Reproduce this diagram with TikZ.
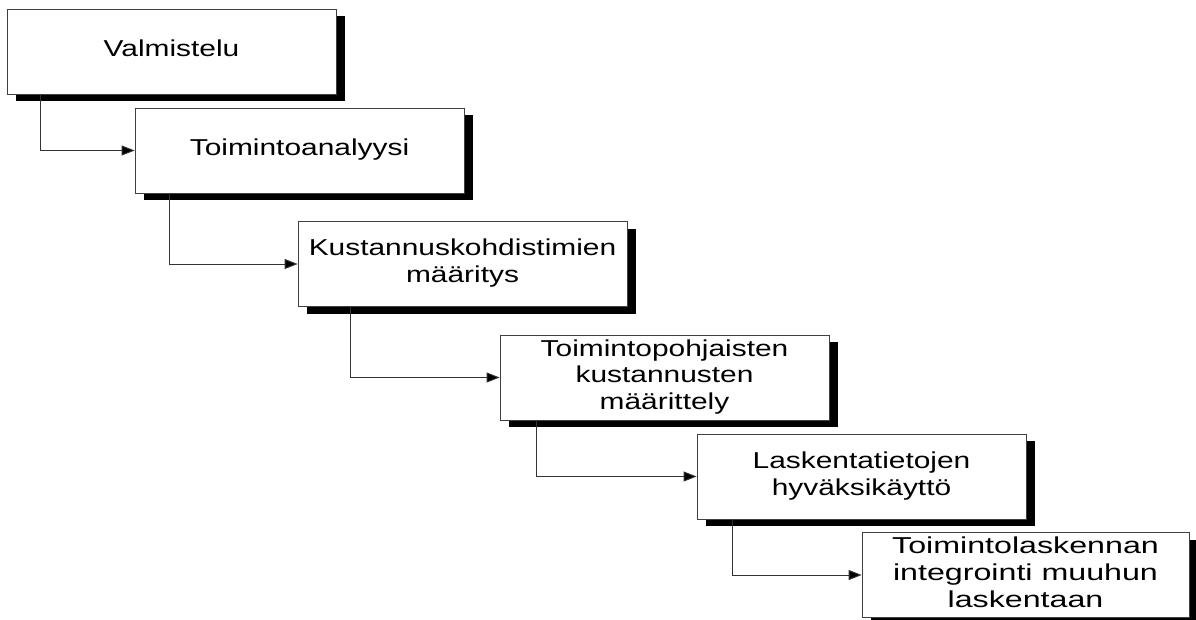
\documentclass[tikz,border=0pt]{standalone}
\usepackage{fontspec}
\setmainfont{Liberation Sans}
\usetikzlibrary{arrows.meta,shadows}

% Text for a stage box: centred lines, widened horizontally
\newcommand{\boxtext}[2][1.3]{\scalebox{#1}[1]{\begin{tabular}{@{}c@{}}#2\end{tabular}}}

\tikzset{
  stage/.style={draw=black!75, line width=0.8pt, fill=white,
    minimum width=329pt, minimum height=85pt, inner sep=0pt,
    font=\fontsize{23}{26.8}\selectfont,
    drop shadow={shadow xshift=8.5pt, shadow yshift=-7pt, opacity=1, fill=black}},
  flow/.style={draw=black!80, line width=0.9pt,
    -{Triangle[length=13pt,width=10pt,fill=black]}}
}

\begin{document}
\begin{tikzpicture}[x=1pt,y=-1pt]
  \useasboundingbox (0,0) rectangle (1196,619);

  % Stages of the implementation, stepping down to the right
  \node[stage] (b1) at (171.5,51.5) {\boxtext{Valmistelu}};
  \node[stage] (b2) at (299.5,150.5) {\boxtext{Toimintoanalyysi}};
  \node[stage] (b3) at (462.5,264) {\boxtext{Kustannuskohdistimien\\määritys}};
  \node[stage] (b4) at (664.5,377.5) {\boxtext{Toimintopohjaisten\\kustannusten\\määrittely}};
  \node[stage] (b5) at (861.5,476.5) {\boxtext{Laskentatietojen\\hyväksikäyttö}};
  \node[stage, minimum width=327pt] (b6) at (1025.5,575) {\boxtext[1.4]{Toimintolaskennan\\integrointi muuhun\\laskentaan}};

  % Connectors from each stage to the next
  \draw[flow] ([xshift=34pt]b1.south west) |- (b2.west);
  \draw[flow] ([xshift=35pt]b2.south west) |- (b3.west);
  \draw[flow] ([xshift=53pt]b3.south west) |- (b4.west);
  \draw[flow] ([xshift=37pt]b4.south west) |- (b5.west);
  \draw[flow] ([xshift=36pt]b5.south west) |- (b6.west);
\end{tikzpicture}
\end{document}
